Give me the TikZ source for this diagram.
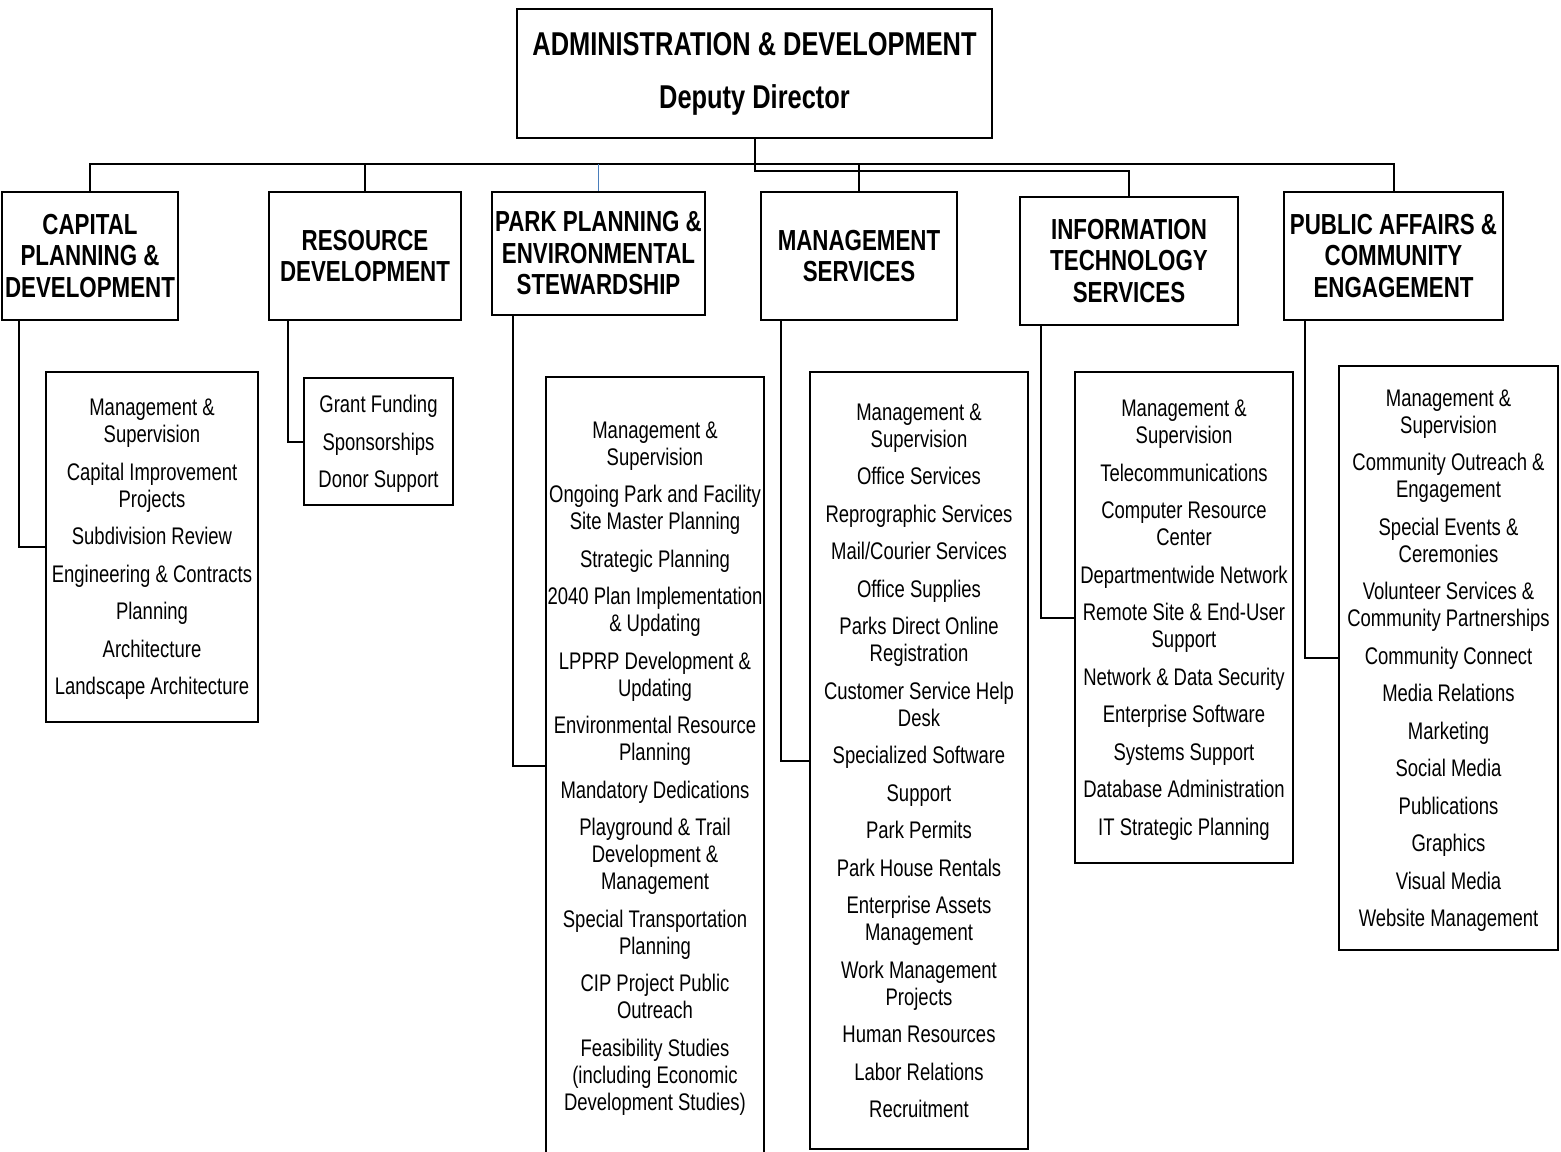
\documentclass[tikz,border=0pt]{standalone}
\usepackage{fontspec}
\setmainfont[FakeStretch=0.77]{Liberation Sans}
\definecolor{linkblue}{RGB}{74,126,187}
\newcommand{\nextitem}{\\[5.25pt]}

\begin{document}
\begin{tikzpicture}[x=0.5pt, y=-0.5pt,
  topbox/.style={draw, line width=1.4pt, inner sep=0pt, align=center, font=\bfseries\fontsize{16.5}{26.5}\selectfont},
  unitbox/.style={draw, line width=1.4pt, inner sep=0pt, align=center, font=\bfseries\fontsize{14.5}{15.75}\selectfont},
  listbox/.style={draw, line width=1.3pt, inner sep=0pt, text depth=0pt, align=center, font=\fontsize{12}{13.5}\selectfont},
  link/.style={line width=1pt}]
\useasboundingbox (0,0) rectangle (1561,1151);
\node[topbox, minimum width=237.5pt, minimum height=64.5pt] (dir) at (754.5,73.5) {ADMINISTRATION \& DEVELOPMENT\\Deputy Director};
\node[unitbox, minimum width=88pt, minimum height=64pt] (cpd) at (90,256) {CAPITAL\\PLANNING \&\\DEVELOPMENT};
\node[unitbox, minimum width=96pt, minimum height=64pt] (rd) at (365,256) {RESOURCE\\DEVELOPMENT};
\node[unitbox, minimum width=106.5pt, minimum height=61.5pt] (ppes) at (598.5,253.5) {PARK PLANNING \&\\ENVIRONMENTAL\\STEWARDSHIP};
\node[unitbox, minimum width=98pt, minimum height=64pt] (ms) at (859,256) {MANAGEMENT\\SERVICES};
\node[unitbox, minimum width=109pt, minimum height=64pt] (its) at (1129,261) {INFORMATION\\TECHNOLOGY\\SERVICES};
\node[unitbox, minimum width=109.5pt, minimum height=64pt] (pace) at (1393.5,256) {PUBLIC AFFAIRS \&\\COMMUNITY\\ENGAGEMENT};
\node[listbox, minimum width=106pt, minimum height=175pt] (cpdl) at (152,547) {Management \&\\Supervision\nextitem
  Capital Improvement\\Projects\nextitem
  Subdivision Review\nextitem
  Engineering \& Contracts\nextitem
  Planning\nextitem
  Architecture\nextitem
  Landscape Architecture};
\node[listbox, minimum width=74.5pt, minimum height=63.5pt] (rdl) at (378.5,441.5) {Grant Funding\nextitem
  Sponsorships\nextitem
  Donor Support};
\node[listbox, minimum width=109pt, minimum height=389pt] (ppesl) at (655,766) {Management \&\\Supervision\nextitem
  Ongoing Park and Facility\\Site Master Planning\nextitem
  Strategic Planning\nextitem
  2040 Plan Implementation\\\& Updating\nextitem
  LPPRP Development \&\\Updating\nextitem
  Environmental Resource\\Planning\nextitem
  Mandatory Dedications\nextitem
  Playground \& Trail\\Development \&\\Management\nextitem
  Special Transportation\\Planning\nextitem
  CIP Project Public\\Outreach\nextitem
  Feasibility Studies\\(including Economic\\Development Studies)};
\node[listbox, minimum width=109pt, minimum height=388.5pt] (msl) at (919,760.5) {Management \&\\Supervision\nextitem
  Office Services\nextitem
  Reprographic Services\nextitem
  Mail/Courier Services\nextitem
  Office Supplies\nextitem
  Parks Direct Online\\Registration\nextitem
  Customer Service Help\\Desk\nextitem
  Specialized Software\nextitem
  Support\nextitem
  Park Permits\nextitem
  Park House Rentals\nextitem
  Enterprise Assets\\Management\nextitem
  Work Management\\Projects\nextitem
  Human Resources\nextitem
  Labor Relations\nextitem
  Recruitment};
\node[listbox, minimum width=109pt, minimum height=245.5pt] (itsl) at (1184,617.5) {Management \&\\Supervision\nextitem
  Telecommunications\nextitem
  Computer Resource\\Center\nextitem
  Departmentwide Network\nextitem
  Remote Site \& End-User\\Support\nextitem
  Network \& Data Security\nextitem
  Enterprise Software\nextitem
  Systems Support\nextitem
  Database Administration\nextitem
  IT Strategic Planning};
\node[listbox, minimum width=109.5pt, minimum height=292pt] (pacel) at (1448.5,658) {Management \&\\Supervision\nextitem
  Community Outreach \&\\Engagement\nextitem
  Special Events \&\\Ceremonies\nextitem
  Volunteer Services \&\\Community Partnerships\nextitem
  Community Connect\nextitem
  Media Relations\nextitem
  Marketing\nextitem
  Social Media\nextitem
  Publications\nextitem
  Graphics\nextitem
  Visual Media\nextitem
  Website Management};
\coordinate (bus) at (754.5,164);
\draw[link] (dir.south) -- (bus);
\draw[link] (cpd.north) |- (bus) -| (pace.north);
\draw[link] (rd.north) -- (rd.north |- bus);
\draw[link, linkblue, line width=0.7pt] (ppes.north) -- (ppes.north |- bus);
\draw[link] (ms.north) -- (ms.north |- bus);
\draw[link] (bus) -- ++(0,7) -| (its.north);
\draw[link] ([xshift=9pt]cpd.south west) |- (cpdl.west);
\draw[link] ([xshift=10pt]rd.south west) |- (rdl.west);
\draw[link] ([xshift=11pt]ppes.south west) |- (ppesl.west);
\draw[link] ([xshift=10.5pt]ms.south west) |- (msl.west);
\draw[link] ([xshift=11pt]its.south west) |- (itsl.west);
\draw[link] ([xshift=11pt]pace.south west) |- (pacel.west);
\end{tikzpicture}
\end{document}
